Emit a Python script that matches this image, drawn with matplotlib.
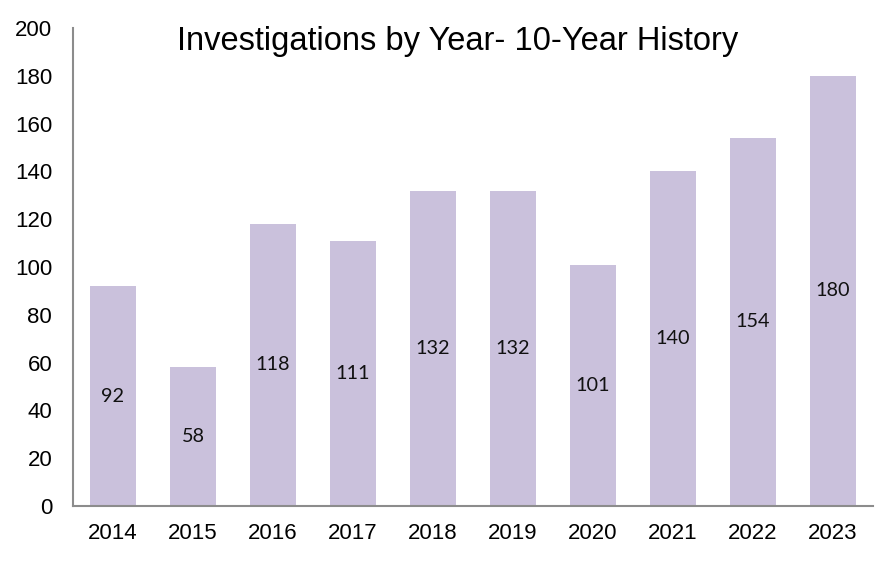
import matplotlib
matplotlib.use("Agg")
import matplotlib.pyplot as plt

years = ["2014", "2015", "2016", "2017", "2018", "2019", "2020", "2021", "2022", "2023"]
investigations = [92, 58, 118, 111, 132, 132, 101, 140, 154, 180]
yticks = [0, 20, 40, 60, 80, 100, 120, 140, 160, 180, 200]
title = "Investigations by Year- 10-Year History"

fig = plt.figure(figsize=(8.84, 5.68), dpi=100)
ax = fig.add_axes([73/884, 62/568, 800/884, 478/568])

x = list(range(len(years)))
bars = ax.bar(x, investigations, width=0.575, color="#CAC1DC", zorder=2)
for xi, v in zip(x, investigations):
    ax.text(xi, v / 2, str(v), ha="center", va="center", fontsize=14.3,
            family="Lato", color="#111111")

ax.set_xlim(-0.5, len(years) - 0.5)
ax.set_ylim(0, 200)
ax.set_yticks(yticks)
ax.set_yticklabels([str(t) for t in yticks], family="Liberation Sans", fontsize=16)
ax.set_xticks(x)
ax.set_xticklabels(years, family="Liberation Sans", fontsize=16)
ax.tick_params(axis="y", length=0, pad=15)
ax.tick_params(axis="x", length=0, pad=12)

for s in ["top", "right"]:
    ax.spines[s].set_visible(False)
for s in ["left", "bottom"]:
    ax.spines[s].set_color("#8C8C8C")
    ax.spines[s].set_linewidth(1.5)

ax.text(0.481, 0.971, title, transform=ax.transAxes, ha="center", va="center",
        fontsize=23.5, family="Liberation Sans", color="#000000")

fig.savefig("out.png", dpi=100)
